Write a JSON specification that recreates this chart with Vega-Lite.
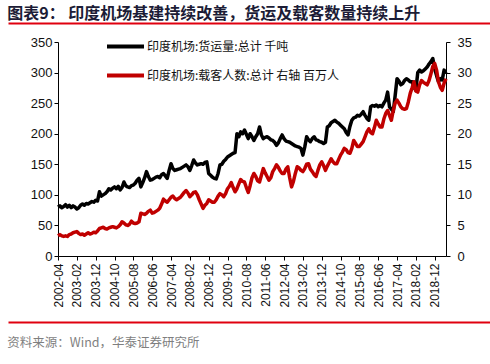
{
"$schema": "https://vega.github.io/schema/vega-lite/v6.json",
"padding": {"left": 5, "top": 5, "right": 0, "bottom": 0},
"spacing": 10,
"config": {
 "view": {"stroke": null},
 "font": "Liberation Sans",
 "axis": {"grid": false, "domainColor": "#000000", "tickColor": "#000000", "labelColor": "#111111", "labelFont": "Liberation Sans", "labelFontSize": 13, "tickSize": 4, "title": null}
},
"datasets": {
 "d": [
{"d":"2002-04","c":80,"p":3.3},{"d":"2002-05","c":82,"p":3.5},{"d":"2002-06","c":79,"p":3.3},{"d":"2002-07","c":81,"p":3.2},{"d":"2002-08","c":84,"p":3.3},{"d":"2002-09","c":80,"p":3.2},{"d":"2002-10","c":83,"p":3.5},{"d":"2002-11","c":79,"p":3.6},{"d":"2002-12","c":82,"p":3.8},
{"d":"2003-01","c":80,"p":3.9},{"d":"2003-02","c":77,"p":4.0},{"d":"2003-03","c":79,"p":3.7},{"d":"2003-04","c":83,"p":3.5},{"d":"2003-05","c":85,"p":3.6},{"d":"2003-06","c":83,"p":3.4},{"d":"2003-07","c":86,"p":3.6},{"d":"2003-08","c":85,"p":3.8},{"d":"2003-09","c":87,"p":3.6},{"d":"2003-10","c":89,"p":3.7},{"d":"2003-11","c":88,"p":3.9},{"d":"2003-12","c":91,"p":3.8},
{"d":"2004-01","c":90,"p":4.1},{"d":"2004-02","c":105,"p":4.5},{"d":"2004-03","c":98,"p":4.6},{"d":"2004-04","c":100,"p":4.7},{"d":"2004-05","c":102,"p":4.5},{"d":"2004-06","c":105,"p":4.4},{"d":"2004-07","c":110,"p":4.6},{"d":"2004-08","c":108,"p":4.7},{"d":"2004-09","c":111,"p":4.8},{"d":"2004-10","c":113,"p":4.7},{"d":"2004-11","c":110,"p":4.6},{"d":"2004-12","c":114,"p":4.8},
{"d":"2005-01","c":108,"p":5.1},{"d":"2005-02","c":112,"p":5.6},{"d":"2005-03","c":121,"p":5.4},{"d":"2005-04","c":115,"p":5.1},{"d":"2005-05","c":113,"p":5.0},{"d":"2005-06","c":112,"p":5.2},{"d":"2005-07","c":115,"p":5.7},{"d":"2005-08","c":116,"p":5.4},{"d":"2005-09","c":119,"p":5.3},{"d":"2005-10","c":124,"p":5.4},{"d":"2005-11","c":127,"p":5.6},{"d":"2005-12","c":113,"p":7.0},
{"d":"2006-01","c":120,"p":6.9},{"d":"2006-02","c":128,"p":6.8},{"d":"2006-03","c":138,"p":7.0},{"d":"2006-04","c":130,"p":7.3},{"d":"2006-05","c":124,"p":7.5},{"d":"2006-06","c":125,"p":7.0},{"d":"2006-07","c":127,"p":7.1},{"d":"2006-08","c":129,"p":7.3},{"d":"2006-09","c":130,"p":7.5},{"d":"2006-10","c":128,"p":7.8},{"d":"2006-11","c":133,"p":8.5},{"d":"2006-12","c":135,"p":9.3},
{"d":"2007-01","c":131,"p":9.0},{"d":"2007-02","c":127,"p":8.8},{"d":"2007-03","c":140,"p":9.2},{"d":"2007-04","c":151,"p":9.6},{"d":"2007-05","c":143,"p":9.8},{"d":"2007-06","c":140,"p":9.4},{"d":"2007-07","c":141,"p":9.2},{"d":"2007-08","c":142,"p":9.4},{"d":"2007-09","c":143,"p":9.6},{"d":"2007-10","c":145,"p":10.0},{"d":"2007-11","c":147,"p":10.4},{"d":"2007-12","c":149,"p":10.7},
{"d":"2008-01","c":146,"p":10.3},{"d":"2008-02","c":140,"p":9.7},{"d":"2008-03","c":148,"p":10.0},{"d":"2008-04","c":157,"p":10.4},{"d":"2008-05","c":152,"p":10.5},{"d":"2008-06","c":149,"p":10.0},{"d":"2008-07","c":150,"p":9.2},{"d":"2008-08","c":151,"p":8.5},{"d":"2008-09","c":150,"p":7.8},{"d":"2008-10","c":153,"p":8.3},{"d":"2008-11","c":154,"p":8.6},{"d":"2008-12","c":135,"p":9.2},
{"d":"2009-01","c":132,"p":9.0},{"d":"2009-02","c":129,"p":8.8},{"d":"2009-03","c":127,"p":8.8},{"d":"2009-04","c":126,"p":9.2},{"d":"2009-05","c":135,"p":9.8},{"d":"2009-06","c":149,"p":10.2},{"d":"2009-07","c":150,"p":10.0},{"d":"2009-08","c":155,"p":9.7},{"d":"2009-09","c":158,"p":10.2},{"d":"2009-10","c":162,"p":11.0},{"d":"2009-11","c":164,"p":11.4},{"d":"2009-12","c":166,"p":12.0},
{"d":"2010-01","c":168,"p":11.2},{"d":"2010-02","c":169,"p":10.5},{"d":"2010-03","c":200,"p":11.0},{"d":"2010-04","c":195,"p":11.8},{"d":"2010-05","c":203,"p":12.5},{"d":"2010-06","c":200,"p":12.2},{"d":"2010-07","c":206,"p":12.1},{"d":"2010-08","c":199,"p":11.2},{"d":"2010-09","c":192,"p":10.4},{"d":"2010-10","c":200,"p":11.5},{"d":"2010-11","c":195,"p":12.8},{"d":"2010-12","c":189,"p":13.5},
{"d":"2011-01","c":195,"p":13.0},{"d":"2011-02","c":200,"p":12.3},{"d":"2011-03","c":211,"p":12.1},{"d":"2011-04","c":198,"p":13.2},{"d":"2011-05","c":192,"p":14.3},{"d":"2011-06","c":194,"p":13.6},{"d":"2011-07","c":195,"p":13.0},{"d":"2011-08","c":193,"p":12.4},{"d":"2011-09","c":190,"p":12.8},{"d":"2011-10","c":189,"p":13.8},{"d":"2011-11","c":186,"p":14.3},{"d":"2011-12","c":181,"p":14.9},
{"d":"2012-01","c":185,"p":14.5},{"d":"2012-02","c":192,"p":13.9},{"d":"2012-03","c":198,"p":13.5},{"d":"2012-04","c":192,"p":13.5},{"d":"2012-05","c":188,"p":14.2},{"d":"2012-06","c":187,"p":14.6},{"d":"2012-07","c":186,"p":12.8},{"d":"2012-08","c":184,"p":11.3},{"d":"2012-09","c":182,"p":12.2},{"d":"2012-10","c":180,"p":13.5},{"d":"2012-11","c":179,"p":14.6},{"d":"2012-12","c":178,"p":14.4},
{"d":"2013-01","c":176,"p":14.0},{"d":"2013-02","c":165,"p":13.8},{"d":"2013-03","c":178,"p":14.3},{"d":"2013-04","c":195,"p":15.0},{"d":"2013-05","c":190,"p":15.1},{"d":"2013-06","c":187,"p":14.2},{"d":"2013-07","c":192,"p":13.8},{"d":"2013-08","c":195,"p":13.3},{"d":"2013-09","c":190,"p":13.0},{"d":"2013-10","c":189,"p":14.0},{"d":"2013-11","c":187,"p":14.9},{"d":"2013-12","c":186,"p":15.4},
{"d":"2014-01","c":184,"p":14.8},{"d":"2014-02","c":186,"p":14.0},{"d":"2014-03","c":211,"p":14.7},{"d":"2014-04","c":213,"p":15.3},{"d":"2014-05","c":218,"p":15.9},{"d":"2014-06","c":220,"p":15.4},{"d":"2014-07","c":222,"p":15.1},{"d":"2014-08","c":219,"p":15.1},{"d":"2014-09","c":217,"p":15.8},{"d":"2014-10","c":214,"p":16.5},{"d":"2014-11","c":211,"p":17.0},{"d":"2014-12","c":208,"p":17.6},
{"d":"2015-01","c":202,"p":17.4},{"d":"2015-02","c":198,"p":16.9},{"d":"2015-03","c":212,"p":16.8},{"d":"2015-04","c":222,"p":17.6},{"d":"2015-05","c":226,"p":18.9},{"d":"2015-06","c":227,"p":18.4},{"d":"2015-07","c":230,"p":17.9},{"d":"2015-08","c":229,"p":17.9},{"d":"2015-09","c":232,"p":18.3},{"d":"2015-10","c":236,"p":18.7},{"d":"2015-11","c":230,"p":19.5},{"d":"2015-12","c":225,"p":20.3},
{"d":"2016-01","c":222,"p":20.8},{"d":"2016-02","c":244,"p":20.2},{"d":"2016-03","c":246,"p":20.0},{"d":"2016-04","c":245,"p":21.0},{"d":"2016-05","c":247,"p":22.2},{"d":"2016-06","c":244,"p":21.6},{"d":"2016-07","c":246,"p":21.1},{"d":"2016-08","c":244,"p":21.1},{"d":"2016-09","c":250,"p":22.4},{"d":"2016-10","c":255,"p":23.3},{"d":"2016-11","c":268,"p":23.8},{"d":"2016-12","c":244,"p":23.0},
{"d":"2017-01","c":240,"p":22.2},{"d":"2017-02","c":236,"p":23.8},{"d":"2017-03","c":262,"p":25.0},{"d":"2017-04","c":290,"p":25.5},{"d":"2017-05","c":286,"p":25.0},{"d":"2017-06","c":280,"p":24.4},{"d":"2017-07","c":282,"p":24.1},{"d":"2017-08","c":287,"p":24.0},{"d":"2017-09","c":290,"p":24.1},{"d":"2017-10","c":288,"p":25.2},{"d":"2017-11","c":285,"p":26.6},{"d":"2017-12","c":285,"p":27.5},
{"d":"2018-01","c":276,"p":28.5},{"d":"2018-02","c":271,"p":27.0},{"d":"2018-03","c":300,"p":26.8},{"d":"2018-04","c":304,"p":28.0},{"d":"2018-05","c":301,"p":28.7},{"d":"2018-06","c":303,"p":28.4},{"d":"2018-07","c":306,"p":28.2},{"d":"2018-08","c":309,"p":28.0},{"d":"2018-09","c":314,"p":28.7},{"d":"2018-10","c":318,"p":29.8},{"d":"2018-11","c":323,"p":31.0},{"d":"2018-12","c":306,"p":31.5},
{"d":"2019-01","c":295,"p":30.4},{"d":"2019-02","c":285,"p":28.5},{"d":"2019-03","c":290,"p":27.6},{"d":"2019-04","c":288,"p":27.1},{"d":"2019-05","c":304,"p":28.3},{"d":"2019-06","c":298,"p":29.0}
 ]
},
"vconcat": [
 {
  "width": 485, "height": 1,
  "data": {"values": [{"v": 0}]},
  "title": {"text": "图表9：  印度机场基建持续改善，货运及载客数量持续上升", "anchor": "start", "font": "Noto Sans CJK SC", "fontSize": 16, "fontWeight": "bold", "color": "#1C1C36", "offset": -2, "dx": 2},
  "mark": {"type": "point", "opacity": 0},
  "encoding": {"x": {"field": "v", "type": "quantitative", "scale": {"domain": [0, 1]}, "axis": {"orient": "bottom", "domainColor": "#E0000F", "domainWidth": 2, "ticks": false, "labels": false, "title": null}}}
 },
 {
  "width": 438, "height": 214,
  "data": {"name": "d"},
  "encoding": {
   "x": {"field": "d", "type": "ordinal", "sort": null, "scale": {"type": "point", "padding": 0, "range": [50, 438]},
    "axis": {"values": ["2002-04","2003-02","2003-12","2004-10","2005-08","2006-06","2007-04","2008-02","2008-12","2009-10","2010-08","2011-06","2012-04","2013-02","2013-12","2014-10","2015-08","2016-06","2017-04","2018-02","2018-12"], "labelAngle": -90, "labelFontSize": 12, "labelPadding": 3, "minExtent": 53}}
  },
  "layer": [
   {
    "mark": {"type": "line", "strokeWidth": 3.5, "strokeJoin": "round"},
    "encoding": {
     "y": {"field": "c", "type": "quantitative", "scale": {"domain": [0, 350]}, "axis": {"orient": "left", "offset": -50, "values": [0,50,100,150,200,250,300,350], "labelPadding": 2}},
     "color": {"datum": "印度机场:货运量:总计 千吨", "type": "nominal",
      "scale": {"domain": ["印度机场:货运量:总计 千吨", "印度机场:载客人数:总计 右轴 百万人"], "range": ["#000000", "#C00000"]},
      "legend": {"orient": "none", "legendX": 97, "legendY": 4, "direction": "vertical", "title": null, "symbolType": "stroke", "symbolSize": 1369, "symbolStrokeWidth": 4, "labelFont": "Noto Sans CJK SC", "labelFontSize": 12, "labelColor": "#111111", "rowPadding": -13, "labelOffset": 1, "padding": 0, "labelLimit": 400}}
    }
   },
   {
    "mark": {"type": "line", "strokeWidth": 3.5, "strokeJoin": "round"},
    "encoding": {
     "y": {"field": "p", "type": "quantitative", "scale": {"domain": [0, 35]}, "axis": {"orient": "right", "values": [0,5,10,15,20,25,30,35], "labelPadding": 7}},
     "color": {"datum": "印度机场:载客人数:总计 右轴 百万人", "type": "nominal"}
    }
   }
  ],
  "resolve": {"scale": {"y": "independent"}}
 },
 {
  "width": 485, "height": 1,
  "data": {"values": [{"v": 0}]},
  "title": {"text": "资料来源：Wind，华泰证券研究所", "orient": "bottom", "anchor": "start", "font": "Noto Sans CJK SC", "fontSize": 12.5, "fontWeight": "normal", "color": "#7F7F7F", "offset": 12, "dx": 2},
  "mark": {"type": "point", "opacity": 0},
  "encoding": {"x": {"field": "v", "type": "quantitative", "scale": {"domain": [0, 1]}, "axis": {"orient": "top", "domainColor": "#E0000F", "domainWidth": 2, "ticks": false, "labels": false, "title": null}}}
 }
]
}
